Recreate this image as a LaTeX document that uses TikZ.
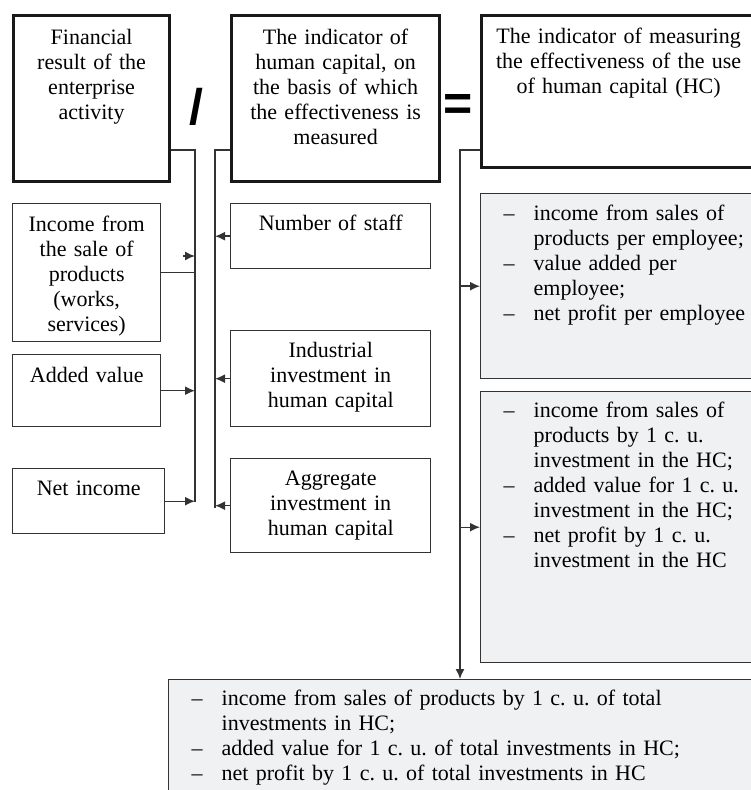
\documentclass[tikz,border=0pt]{standalone}
\usepackage{fontspec}
\setmainfont{Liberation Serif}
\newfontfamily\signfont{Liberation Sans}
\usetikzlibrary{arrows.meta}
\definecolor{boxgray}{RGB}{240,241,243}
\newcommand{\dashlist}[1]{\begin{tabular}[t]{@{}p{15pt}@{}l@{}}#1\end{tabular}}
\newcommand{\dsh}{\textendash}
\frenchspacing

\begin{document}
\begin{tikzpicture}[x=0.5pt, y=-0.5pt,
    every node/.style={font=\fontsize{11}{12.5}\selectfont, inner ysep=0pt, inner xsep=2pt, anchor=north west},
    bigbox/.style={draw=black!90, line width=1.6pt, align=center},
    smallbox/.style={draw=black!80, line width=0.7pt, align=center},
    listbox/.style={draw=black!80, line width=0.7pt, fill=boxgray, inner xsep=11.5pt},
    sign/.style={font=\signfont\bfseries\fontsize{25}{25}\selectfont, inner sep=0pt, anchor=center},
    wire/.style={draw=black!80, line width=0.7pt},
    arr/.style={wire, -{Latex[length=5pt,width=4.5pt]}}]
    \useasboundingbox (0,0) rectangle (750,790);
    % top row
    \node[bigbox, text width=74pt, text height=14.5pt, text depth=68.5pt] (fin) at (12,14)
        {Financial\\ result of the\\ enterprise\\ activity};
    \node[sign] (divsign) at (196,107) {/};
    \node[bigbox, text width=100pt, text height=14.5pt, text depth=68.5pt] (hcind) at (230,14)
        {The indicator of\\ human capital, on\\ the basis of which\\ the effectiveness is\\ measured};
    \node[sign] (eqsign) at (458,108) {=};
    \node[bigbox, text width=133pt, text height=14pt, text depth=62pt] (effind) at (480,14)
        {The indicator of measuring\\ the effectiveness of the use\\ of human capital (HC)};
    % results
    \node[smallbox, text width=70pt, text height=14pt, text depth=55pt] (income) at (12,203)
        {Income from\\ the sale of\\ products\\ (works,\\ services)};
    \node[smallbox, text width=70pt, text height=14pt, text depth=22pt] (addval) at (12,354)
        {Added value};
    \node[smallbox, text width=72pt, text height=13.5pt, text depth=19pt] (netinc) at (12,468)
        {Net income};
    % human capital indicators
    \node[smallbox, text width=96pt, text height=13.5pt, text depth=19pt] (staff) at (230,203)
        {Number of staff};
    \node[smallbox, text width=96pt, text height=13.5pt, text depth=34.5pt] (indinv) at (230,330)
        {Industrial\\ investment in\\ human capital};
    \node[smallbox, text width=96pt, text height=13.5pt, text depth=33.5pt] (aggrinv) at (230,458)
        {Aggregate\\ investment in\\ human capital};
    % effectiveness indicators
    \node[listbox, text width=118pt, text height=13.5pt, text depth=79pt] (perempl) at (480,193)
        {\dashlist{\dsh & income from sales of\\ & products per employee;\\
         \dsh & value added per\\ & employee;\\ \dsh & net profit per employee}};
    \node[listbox, text width=118pt, text height=13pt, text depth=122.5pt] (perinv) at (480,391)
        {\dashlist{\dsh & income from sales of\\ & products by 1 c. u.\\ & investment in the HC;\\
         \dsh & added value for 1 c. u.\\ & investment in the HC;\\
         \dsh & net profit by 1 c. u.\\ & investment in the HC}};
    \node[listbox, text width=273pt, text height=13pt, text depth=47.5pt] (total) at (168,679)
        {\dashlist{\dsh & income from sales of products by 1 c. u. of total\\ & investments in HC;\\
         \dsh & added value for 1 c. u. of total investments in HC;\\
         \dsh & net profit by 1 c. u. of total investments in HC}};
    % left bus
    \coordinate (lbtop) at (195,150);
    \coordinate (lbbot) at (195,502);
    \coordinate (incarr) at (195,256);
    \draw[wire] (fin.east |- lbtop) -- (lbtop) -- (lbbot);
    \draw[wire] (income.east) -- (income.east -| lbtop);
    \draw[arr] ([xshift=-6pt]incarr) -- (incarr);
    \draw[arr] (addval.east) -- (addval.east -| lbtop);
    \draw[arr] (netinc.east) -- (netinc.east -| lbtop);
    % middle bus
    \coordinate (mbtop) at (215,150);
    \coordinate (mbbot) at (215,508);
    \draw[wire] (hcind.west |- mbtop) -- (mbtop) -- (mbbot);
    \draw[arr] (staff.west) -- (staff.west -| mbtop);
    \draw[arr] (indinv.west) -- (indinv.west -| mbtop);
    \draw[arr] (aggrinv.west) -- (aggrinv.west -| mbtop);
    % right bus
    \coordinate (rbtop) at (460,150);
    \draw[arr] (effind.west |- rbtop) -- (rbtop) -- (rbtop |- total.north);
    \draw[arr] (perempl.west -| rbtop) -- (perempl.west);
    \draw[arr] (perinv.west -| rbtop) -- (perinv.west);
\end{tikzpicture}
\end{document}
